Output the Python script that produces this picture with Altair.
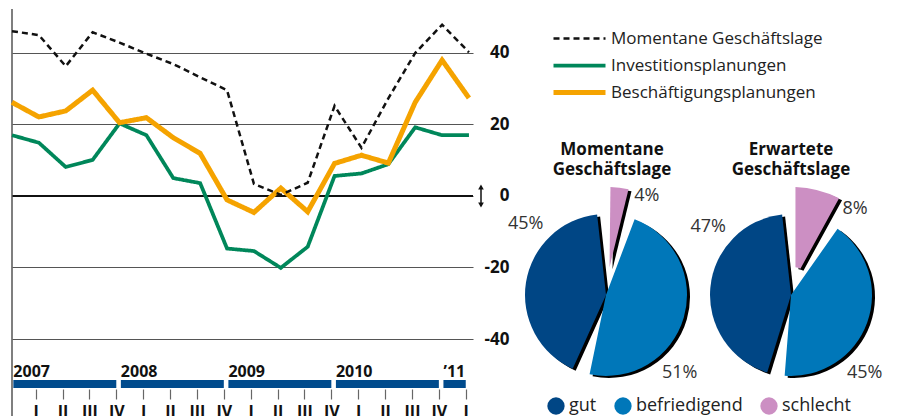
import altair as alt
import pandas as pd

# ---------------- data ----------------
quarter_index = list(range(18))  # 0 = 2006 IV ... 17 = 2011 I
momentane = [46.1, 45.0, 36.3, 45.8, 42.9, 39.8, 36.9, 33.2, 29.6, 3.4, 0.3, 3.7, 25.2, 13.5, 27.3, 40.0, 47.9, 40.2]
investition = [17.0, 14.9, 8.1, 10.1, 20.3, 17.0, 5.0, 3.6, -14.7, -15.4, -20.1, -14.2, 5.6, 6.3, 8.9, 19.2, 17.0, 17.0]
beschaeftigung = [26.2, 22.1, 23.8, 29.6, 20.5, 21.9, 16.3, 11.9, -1.1, -4.6, 2.2, -4.4, 9.1, 11.4, 9.2, 26.2, 38.0, 27.4]

series_names = ["Momentane Geschäftslage", "Investitionsplanungen", "Beschäftigungsplanungen"]
series_colors = ["#111111", "#00875a", "#f5a300"]
series_widths = [2.5, 5, 5]

y_ticks = [-40, -20, 0, 20, 40]
quarter_labels = ["I", "II", "III", "IV"]
tick_quarters = list(range(1, 18))
years = ["2007", "2008", "2009", "2010", "\u201911"]
year_first_q = [1, 5, 9, 13, 17]
year_last_q = [4, 8, 12, 16, 17]

pie_cats = ["gut", "befriedigend", "schlecht"]
pie_colors = ["#004685", "#0077b9", "#cc8fc3"]
pie_momentane = [45, 51, 4]
pie_erwartet = [47, 45, 8]

FONT = "Open Sans"

# ---------------- line chart ----------------
rows = []
# drawing order: green, orange, dashed on top
for i in [1, 2, 0]:
    for q, v in zip(quarter_index, [momentane, investition, beschaeftigung][i]):
        rows.append({"q": q, "value": v, "series": series_names[i]})
lines_df = pd.DataFrame(rows)

xs = alt.Scale(domain=[0, 17.15], nice=False, zero=False)
ys = alt.Scale(domain=[-40, 52.3], nice=False, zero=False)

label_arr = "[" + ",".join("'%s'" % l for l in quarter_labels) + "]"
x_axis = alt.Axis(
    orient="bottom", values=[q - 0.12 for q in tick_quarters],
    labelExpr=label_arr + "[(round(datum.value) - 1) % 4]",
    offset=50, tickSize=10, tickColor="#666", tickWidth=1.2, domain=False, grid=False,
    labelFont=FONT, labelFontSize=16, labelFontWeight="bold", labelColor="#111",
    labelPadding=4, labelAngle=0, labelOverlap=False, labelFlush=False, title=None,
)
y_axis = alt.Axis(
    orient="right", values=y_ticks, labelExpr="'' + datum.value",
    grid=True, gridColor="#555", gridWidth=1.2, ticks=False, domain=False,
    labelAlign="right", labelPadding=36, labelFont=FONT, labelFontSize=17,
    labelFontWeight="bold", labelColor="#111", title=None,
)

X = alt.X("q:Q", scale=xs, axis=x_axis)
Y = alt.Y("value:Q", scale=ys, axis=y_axis)

legend = alt.Legend(
    orient="none", legendX=555, legendY=18, title=None,
    symbolType="M-2.6,0H2.6", symbolSize=400,
    labelFont=FONT, labelFontSize=17, labelColor="#222", labelLimit=0,
    rowPadding=6.5, labelOffset=19,
)
lines = alt.Chart(lines_df).mark_line().encode(
    x=X, y=Y,
    color=alt.Color("series:N", scale=alt.Scale(domain=series_names, range=series_colors), legend=legend),
    strokeDash=alt.StrokeDash("series:N", scale=alt.Scale(domain=series_names, range=[[6, 4], [1, 0], [1, 0]]), legend=legend),
    strokeWidth=alt.StrokeWidth("series:N", scale=alt.Scale(domain=series_names, range=series_widths), legend=legend),
)

zero_df = pd.DataFrame({"value": [0]})
zero_rule = alt.Chart(zero_df).mark_rule(color="#111", strokeWidth=2).encode(y=Y)

left_line = alt.Chart(zero_df).mark_rule(color="#555", strokeWidth=1.5).encode(
    x=alt.value(0), y=alt.value(0), y2=alt.value(420)
)

arrow_rule = alt.Chart(zero_df).mark_rule(color="#111", strokeWidth=1.5, yOffset=-10, y2Offset=10).encode(
    x=alt.value(469), y=Y, y2=alt.Y2("value:Q")
)
arrow_up = alt.Chart(zero_df).mark_point(shape="triangle-up", filled=True, size=32, color="#111", opacity=1, yOffset=-9).encode(
    x=alt.value(469), y=Y
)
arrow_down = alt.Chart(zero_df).mark_point(shape="triangle-down", filled=True, size=32, color="#111", opacity=1, yOffset=9).encode(
    x=alt.value(469), y=Y
)

years_df = pd.DataFrame({"year": years, "first": year_first_q, "last": year_last_q})
years_base = alt.Chart(years_df).transform_calculate(s="datum.first - 0.95", e="datum.last - 0.12")
year_bars = years_base.mark_rect(color="#004b8d").encode(
    x=alt.X("s:Q", scale=xs, axis=x_axis), x2="e:Q", y=alt.value(371), y2=alt.value(379)
)
year_text = years_base.mark_text(align="left", baseline="alphabetic", font=FONT, fontSize=16,
                                  fontWeight="bold", color="#111").encode(
    x=alt.X("s:Q", scale=xs, axis=x_axis), y=alt.value(368), text="year:N"
)

line_chart = alt.layer(
    zero_rule, left_line, year_bars, year_text, arrow_rule, arrow_up, arrow_down, lines
).properties(width=461, height=330).resolve_legend(strokeDash="shared", strokeWidth="shared", color="shared")

# ---------------- pies ----------------
def make_pie(values, title_lines, dx, show_legend):
    df = pd.DataFrame({"cat": pie_cats, "val": values})
    base = (
        alt.Chart(df)
        .transform_calculate(ord="indexof(['schlecht','befriedigend','gut'], datum.cat)")
        .transform_joinaggregate(total="sum(val)")
        .transform_window(cum="sum(val)", sort=[alt.SortField("ord")])
        .transform_calculate(
            a0="2*PI*(datum.cum - datum.val)/datum.total",
            a1="2*PI*datum.cum/datum.total",
            r="datum.cat == 'schlecht' ? 108 : 81",
            r2="datum.cat == 'schlecht' ? 28 : 0",
        )
        .transform_calculate(
            la="datum.cat == 'gut' ? datum.a0 + 0.70*(datum.a1-datum.a0) : "
               "(datum.cat == 'befriedigend' ? datum.a0 + 0.665*(datum.a1-datum.a0) : datum.a1 + 0.14)",
            lab="datum.val + '%'",
        )
    )
    big = base.transform_filter("datum.cat != 'schlecht'")
    small = base.transform_filter("datum.cat == 'schlecht'")
    th = alt.Theta("a0:Q", scale=None)
    th2 = alt.Theta2("a1:Q")
    rr = alt.Radius("r:Q", scale=None)
    rr2 = alt.Radius2("r2:Q")
    if show_legend:
        leg = alt.Legend(orient="none", legendX=31, legendY=388, direction="horizontal", columns=3,
                         title=None, symbolType="circle", symbolSize=300, symbolStrokeWidth=0,
                         labelFont=FONT, labelFontSize=18, labelColor="#222", labelOffset=4,
                         labelLimit=0, columnPadding=17)
    else:
        leg = None
    col = alt.Color("cat:N", scale=alt.Scale(domain=pie_cats, range=pie_colors), legend=leg)
    layers = []
    for part, pad in [(big, 0.22), (small, 0.08)]:
        layers.append(part.mark_arc(color="#000", padAngle=pad, xOffset=3, yOffset=2).encode(
            theta=th, theta2=th2, radius=rr, radius2=rr2))
        layers.append(part.mark_arc(padAngle=pad).encode(
            theta=th, theta2=th2, radius=rr, radius2=rr2, color=col))
    labels = base.mark_text(radius=107, font=FONT, fontSize=18, color="#333").encode(
        theta=alt.Theta("la:Q", scale=None), text="lab:N"
    )
    layers.append(labels)
    return alt.layer(*layers).properties(
        width=180, height=224,
        title=alt.TitleParams(title_lines, font=FONT, fontSize=17, fontWeight="bold", color="#111",
                              lineHeight=20, anchor="middle", offset=4, dx=dx),
    )

pie1 = make_pie(pie_momentane, ["Momentane", "Geschäftslage"], 6, True)
pie2 = make_pie(pie_erwartet, ["Erwartete", "Geschäftslage"], 0, False)
pies_row = alt.hconcat(pie1, pie2, spacing=5, bounds="flush").resolve_scale(color="shared")

spacer = alt.Chart(zero_df).mark_rule(opacity=0).encode(x=alt.value(0), y=alt.value(0), y2=alt.value(1)).properties(width=10, height=174)
right_col = alt.vconcat(spacer, pies_row, spacing=0, bounds="flush")

chart = (
    alt.hconcat(line_chart, right_col, spacing=43, bounds="flush")
    .resolve_scale(color="independent", strokeDash="independent", strokeWidth="independent")
    .resolve_legend(color="independent", strokeDash="independent", strokeWidth="independent")
    .properties(padding={"left": -6, "top": 0, "right": 0, "bottom": 0})
    .configure(font=FONT)
    .configure_view(stroke=None)
)

chart.save("out.html", embed_options={"renderer": "svg", "actions": False})
